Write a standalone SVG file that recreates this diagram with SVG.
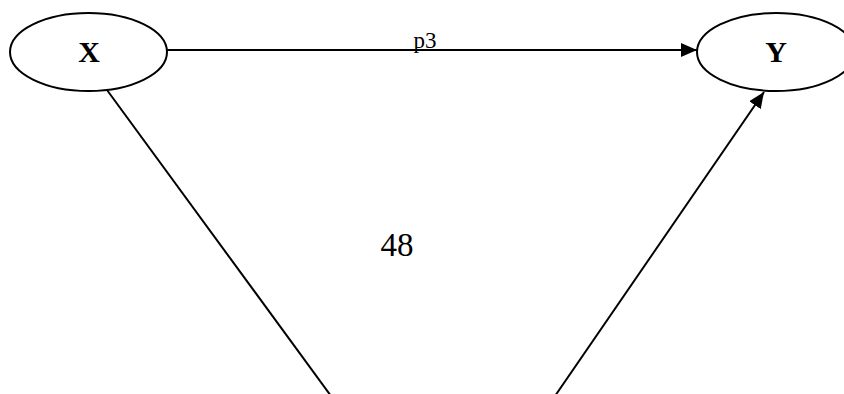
<svg xmlns="http://www.w3.org/2000/svg" width="844" height="394" viewBox="0 0 844 394">
<style>
.node{fill:#fff;stroke:#000;stroke-width:2}
.nl{font-family:"Liberation Serif",serif;font-weight:bold;font-size:30px;text-anchor:middle}
.edge{stroke:#000;stroke-width:2;fill:none}
.lbl{font-family:"Liberation Serif",serif;text-anchor:middle;fill:#000}
</style>
<defs>
<marker id="ah" markerWidth="16" markerHeight="14" refX="16" refY="7" orient="auto" markerUnits="userSpaceOnUse">
<path d="M0,0 L16,7 L0,14 Z" fill="#000"/>
</marker>
</defs>
<rect width="844" height="394" fill="#fff"/>
<g id="edges">
<line class="edge" x1="167" y1="50" x2="697" y2="50" marker-end="url(#ah)"/>
<line class="edge" x1="107" y1="90" x2="331" y2="396"/>
<line class="edge" x1="555" y1="396" x2="764" y2="92" marker-end="url(#ah)"/>
<text class="lbl" x="425" y="48" font-size="23">p3</text>
<text class="lbl" x="397" y="256" font-size="33">48</text>
</g>
<g id="X">
<ellipse class="node" cx="88.5" cy="52" rx="78.5" ry="39"/>
<text class="nl" x="89" y="62">X</text>
</g>
<g id="Y">
<ellipse class="node" cx="776" cy="52" rx="79" ry="39"/>
<text class="nl" x="776" y="62">Y</text>
</g>
</svg>
